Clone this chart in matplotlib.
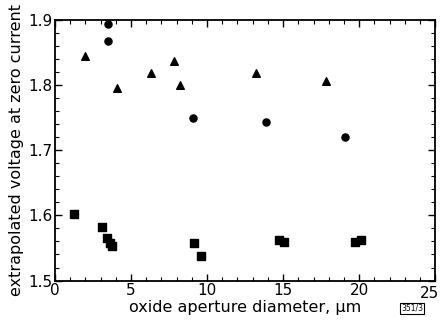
import matplotlib
matplotlib.use("Agg")
import matplotlib.pyplot as plt
from matplotlib.ticker import MultipleLocator, FuncFormatter

# Data
circle_x = [3.46, 3.48, 9.1, 13.9, 19.1]
circle_y = [1.894, 1.868, 1.749, 1.744, 1.721]

triangle_x = [2.0, 4.07, 6.3, 7.83, 8.22, 13.2, 17.8]
triangle_y = [1.845, 1.795, 1.819, 1.837, 1.800, 1.819, 1.806]

square_x = [1.26, 3.11, 3.41, 3.59, 3.76, 9.13, 9.59, 14.74, 15.05, 19.74, 20.15]
square_y = [1.602, 1.582, 1.566, 1.558, 1.553, 1.557, 1.538, 1.563, 1.559, 1.559, 1.563]

x_max = 25

fig = plt.figure(figsize=(4.4, 3.21), dpi=100)
ax = fig.add_axes([0.125, 0.126, 0.864, 0.812])

ax.scatter(circle_x, circle_y, marker='o', s=26, color='black')
ax.scatter(triangle_x, triangle_y, marker='^', s=30, color='black')
ax.scatter(square_x, square_y, marker='s', s=26, color='black')

ax.set_xlim(0, x_max)
ax.set_ylim(1.5, 1.9)
ax.xaxis.set_major_locator(MultipleLocator(5))
ax.xaxis.set_minor_locator(MultipleLocator(1))
ax.yaxis.set_major_locator(MultipleLocator(0.1))
ax.yaxis.set_minor_locator(MultipleLocator(0.02))
# last label drawn separately so it stays inside the figure
ax.xaxis.set_major_formatter(FuncFormatter(lambda v, p: '' if v >= x_max else f'{v:g}'))
ax.tick_params(which='both', direction='in', top=True, right=True,
               labelsize=11, pad=2)
ax.tick_params(which='major', length=5, width=1)
ax.tick_params(which='minor', length=3, width=0.8)
for s in ax.spines.values():
    s.set_linewidth(1.3)

ax.annotate(f'{x_max}', xy=(x_max, 0), xycoords=('data', 'axes fraction'),
            xytext=(3, -4), textcoords='offset points',
            ha='right', va='top', fontsize=11)

ax.set_xlabel("oxide aperture diameter, \u00b5m", fontsize=11.5, labelpad=1)
ax.set_ylabel("extrapolated voltage at zero current", fontsize=11.5, labelpad=3)

fig.text(0.937, 0.040, "351/3", fontsize=5.5, ha='center', va='center',
         bbox=dict(boxstyle='square,pad=0.15', fc='white', ec='black', lw=0.8))

fig.savefig("out.png", dpi=100)
